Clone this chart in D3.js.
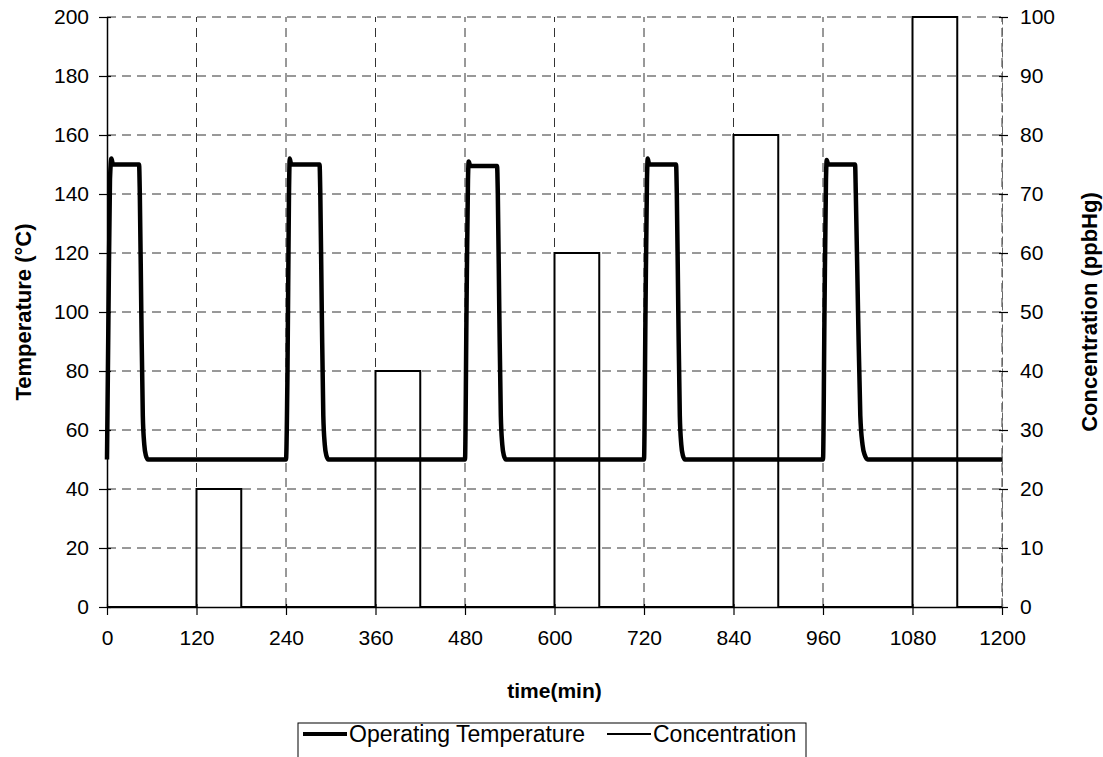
<!DOCTYPE html>
<html>
<head>
<meta charset="utf-8">
<script src="https://cdn.jsdelivr.net/npm/d3@7"></script>
<style>
  body { margin: 0; background: #fff; }
  svg { display: block; font-family: "Liberation Sans", Arial, sans-serif; }
</style>
</head>
<body>
<div id="chart"></div>
<script>
const width = 1103;
const height = 757;
const margin = {top: 17, bottom: 150, left: 107, right: 101};

// operating temperature (deg C) vs time (min)
const tempTime = [
  0, 2, 4, 6, 8, 43, 44, 46, 48, 50, 52, 55,
  240, 242, 244, 245, 247, 285, 286, 288, 290, 292, 294, 297,
  480, 482, 484, 485, 487, 523, 524, 526, 528, 530, 532, 535,
  720, 722, 724, 725, 727, 763, 764, 766, 768, 770, 772, 775,
  960, 962, 964, 965, 967, 1003, 1004, 1007, 1010, 1013, 1016, 1020,
  1200
];
const tempValue = [
  50, 100, 145, 152, 150, 150, 140, 100, 65, 55, 51.5, 50,
  50, 80, 140, 152, 150, 150, 140, 100, 65, 55, 51.5, 50,
  50, 100, 145, 151, 149.5, 149.5, 140, 100, 65, 55, 51.5, 50,
  50, 100, 145, 152, 150, 150, 140, 100, 65, 55, 51.5, 50,
  50, 100, 145, 151.5, 150, 150, 140, 100, 65, 55, 51.5, 50,
  50
];

// concentration (ppbHg), step changes
const concTime = [0, 120, 180, 360, 420, 600, 660, 840, 900, 1080, 1140, 1200];
const concValue = [0, 20, 0, 40, 0, 60, 0, 80, 0, 100, 0, 0];

const xTicks = [0, 120, 240, 360, 480, 600, 720, 840, 960, 1080, 1200];
const tempTicks = [0, 20, 40, 60, 80, 100, 120, 140, 160, 180, 200];
const concTicks = [0, 10, 20, 30, 40, 50, 60, 70, 80, 90, 100];

const svg = d3.select('#chart')
    .append('svg')
    .attr('width', width)
    .attr('height', height);

const x = d3.scaleLinear()
    .domain([0, 1200])
    .range([margin.left, width - margin.right]);

const yT = d3.scaleLinear()
    .domain([0, 200])
    .range([height - margin.bottom, margin.top]);

const yC = d3.scaleLinear()
    .domain([0, 100])
    .range([height - margin.bottom, margin.top]);

// dashed grid
svg.append('g')
    .selectAll('line')
    .data(tempTicks.slice(1))
    .enter()
    .append('line')
        .attr('x1', x(0))
        .attr('x2', x(1200))
        .attr('y1', d => yT(d))
        .attr('y2', d => yT(d))
        .attr('stroke', '#333')
        .attr('stroke-width', 1)
        .attr('stroke-dasharray', '9,6');

svg.append('g')
    .selectAll('line')
    .data(xTicks.slice(1))
    .enter()
    .append('line')
        .attr('x1', d => x(d))
        .attr('x2', d => x(d))
        .attr('y1', yT(0))
        .attr('y2', yT(200))
        .attr('stroke', '#333')
        .attr('stroke-width', 1)
        .attr('stroke-dasharray', '9,6');

// axes
function xAxis(g){
    g.attr('transform', `translate(0, ${yT(0)})`)
        .call(d3.axisBottom(x).tickValues(xTicks).tickFormat(d3.format('d')).tickSize(8).tickPadding(15).tickSizeOuter(0))
        .attr('font-size', '21px')
        .attr('font-family', null);
    g.select('.domain').attr('stroke', '#000').attr('stroke-width', 1.5);
    g.selectAll('.tick line').attr('y1', -3).attr('stroke-width', 1.2);
    g.selectAll('.tick text').attr('fill', '#000');
}

function yAxisLeft(g){
    g.attr('transform', `translate(${x(0)}, 0)`)
        .call(d3.axisLeft(yT).tickValues(tempTicks).tickSize(8).tickPadding(10).tickSizeOuter(0))
        .attr('font-size', '21px')
        .attr('font-family', null);
    g.select('.domain').attr('stroke', '#000').attr('stroke-width', 1.5);
    g.selectAll('.tick line').attr('x1', 4).attr('stroke-width', 1.2);
    g.selectAll('.tick text').attr('fill', '#000');
}

function yAxisRight(g){
    g.attr('transform', `translate(${x(1200)}, 0)`)
        .call(d3.axisRight(yC).tickValues(concTicks).tickSize(6).tickPadding(12).tickSizeOuter(0))
        .attr('font-size', '21px')
        .attr('font-family', null);
    g.select('.domain').attr('stroke', '#666').attr('stroke-width', 1).attr('stroke-dasharray', '8,3');
    g.selectAll('.tick line').attr('x1', -3).attr('stroke-width', 1.2);
    g.selectAll('.tick text').attr('fill', '#000');
}

svg.append('g').call(xAxis);
svg.append('g').call(yAxisLeft);
svg.append('g').call(yAxisRight);

// concentration steps
const concLine = d3.line()
    .x(d => x(d[0]))
    .y(d => yC(d[1]))
    .curve(d3.curveStepAfter);

svg.append('path')
    .datum(d3.zip(concTime, concValue))
    .attr('fill', 'none')
    .attr('stroke', '#000')
    .attr('stroke-width', 2)
    .attr('d', concLine);

// temperature
const tempLine = d3.line()
    .x(d => x(d[0]))
    .y(d => yT(d[1]))
    .curve(d3.curveMonotoneX);

svg.append('path')
    .datum(d3.zip(tempTime, tempValue))
    .attr('fill', 'none')
    .attr('stroke', '#000')
    .attr('stroke-width', 4.5)
    .attr('stroke-linejoin', 'round')
    .attr('d', tempLine);

// axis titles
svg.append('text')
    .attr('x', (x(0) + x(1200)) / 2)
    .attr('y', 698)
    .attr('text-anchor', 'middle')
    .attr('font-size', '21px')
    .attr('font-weight', 'bold')
    .text('time(min)');

svg.append('text')
    .attr('transform', `translate(31, ${(yT(0) + yT(200)) / 2}) rotate(-90)`)
    .attr('text-anchor', 'middle')
    .attr('font-size', '22px')
    .attr('font-weight', 'bold')
    .text('Temperature (°C)');

svg.append('text')
    .attr('transform', `translate(1097, ${(yT(0) + yT(200)) / 2}) rotate(-90)`)
    .attr('text-anchor', 'middle')
    .attr('font-size', '22px')
    .attr('font-weight', 'bold')
    .text('Concentration (ppbHg)');

// legend
const legend = svg.append('g');
legend.append('rect')
    .attr('x', 298)
    .attr('y', 723)
    .attr('width', 508)
    .attr('height', 50)
    .attr('fill', '#fff')
    .attr('stroke', '#000')
    .attr('stroke-width', 1);

const legendItems = [
  {label: 'Operating Temperature', x: 303, w: 4},
  {label: 'Concentration', x: 607, w: 1.8}
];
legendItems.forEach(d => {
    legend.append('line')
        .attr('x1', d.x)
        .attr('x2', d.x + 44)
        .attr('y1', 734)
        .attr('y2', 734)
        .attr('stroke', '#000')
        .attr('stroke-width', d.w);
    legend.append('text')
        .attr('x', d.x + 46)
        .attr('y', 742)
        .attr('font-size', '23px')
        .text(d.label);
});
</script>
</body>
</html>
